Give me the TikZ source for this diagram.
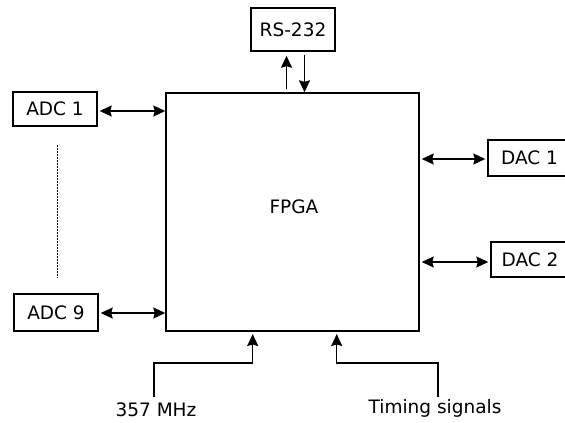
\documentclass[tikz,border=0pt]{standalone}
\usepackage{fontspec}
\setmainfont{DejaVu Sans}
\usetikzlibrary{arrows.meta,calc}
\begin{document}
\begin{tikzpicture}[x=1bp,y=-1bp,
  every node/.style={font=\fontsize{18.5bp}{22bp}\selectfont, inner sep=0pt},
  box/.style={draw, line width=1.4bp},
  tip/.tip={Stealth[length=12bp,width=11bp,inset=1.5bp]},
  arr/.style={line width=1.4bp, -tip},
  dbl/.style={line width=1.4bp, tip-tip}]
\useasboundingbox (0,0) rectangle (565,422);
\clip (0,0) rectangle (565,422);
\fill[white] (0,0) rectangle (565,422);
% boxes
\node[box, minimum width=253bp, minimum height=238bp] (fpga) at (292.5,212) {};
\node (fpgatxt) at (294,207) {FPGA};
\node[box, minimum width=84bp, minimum height=43bp] (rs) at (293,29.5) {RS-232};
\node[box, minimum width=84bp, minimum height=34bp] (adc1) at (55,109) {ADC 1};
\node[box, minimum width=84bp, minimum height=37bp] (adc9) at (56,312.5) {ADC 9};
\node[box, minimum width=83bp, minimum height=36bp] (dac1) at (529.5,158) {DAC 1};
\node[box, minimum width=78bp, minimum height=35bp] (dac2) at (530,259.5) {DAC 2};
\node (clk) at (156,410) {357 MHz};
\node (tim) at (435,408) {Timing signals};
% RS-232 links
\draw[arr] ([xshift=-6bp,yshift=3bp]fpga.north) -- ([xshift=-6.5bp,yshift=-4bp]rs.south);
\draw[arr] ([xshift=11.5bp,yshift=-3bp]rs.south) -- ([xshift=12bp]fpga.north);
% ADC links
\draw[dbl] ([xshift=2bp,yshift=-2bp]adc1.east) -- ([yshift=-2bp]adc1.east -| fpga.west);
\draw[dbl] ([xshift=2bp,yshift=-0.5bp]adc9.east) -- ([yshift=-0.5bp]adc9.east -| fpga.west);
% DAC links
\draw[dbl] ([xshift=2bp,yshift=-1bp]dac1.west -| fpga.east) -- ([xshift=-2bp,yshift=-1bp]dac1.west);
\draw[dbl] ([xshift=2bp,yshift=-2.5bp]dac2.west -| fpga.east) -- ([xshift=-2bp,yshift=-2.5bp]dac2.west);
% dotted
\coordinate (dtop) at (57.7,145);
\coordinate (dbot) at (57.7,278);
\draw[line width=1bp, dash pattern=on 1.5bp off 1.5bp] (dtop) -- (dbot);
% inputs
\coordinate (clkin) at (154,397);
\coordinate (clkend) at (252.7,334);
\coordinate (timin) at (438,397);
\coordinate (timend) at (336.7,334);
\draw[arr] (clkin) -- (154,363) -- (252.7,363) -- (clkend);
\draw[arr] (timin) -- (438,363) -- (336.7,363) -- (timend);
\end{tikzpicture}
\end{document}
